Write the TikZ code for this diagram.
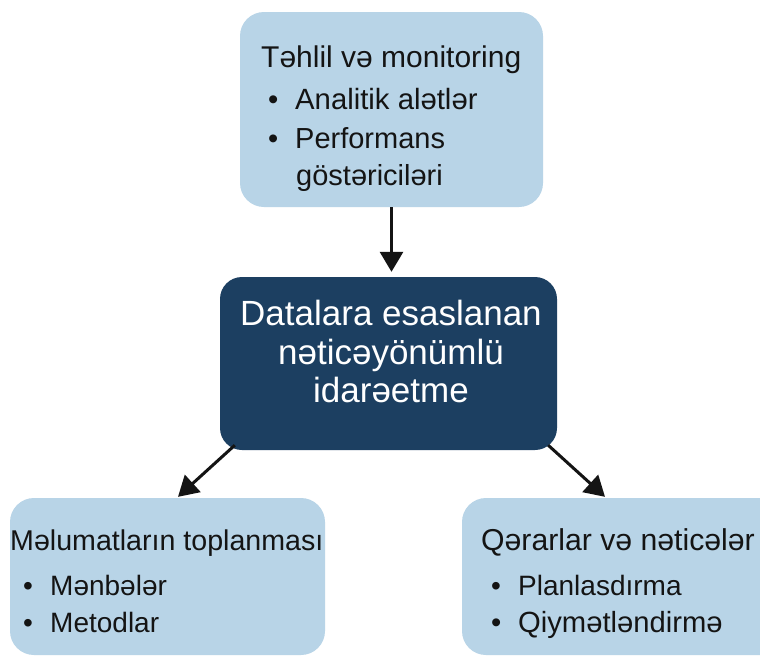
\documentclass[tikz,border=0pt]{standalone}
\usepackage{fontspec}
\setmainfont{Liberation Sans}
\usetikzlibrary{arrows.meta}
\definecolor{lightbox}{HTML}{B8D4E7}
\definecolor{darkbox}{HTML}{1C3F61}
\definecolor{ink}{HTML}{141414}
\newcommand{\bul}{\makebox[27pt][l]{\textbullet}}
\begin{document}
\begin{tikzpicture}[x=1pt,y=-1pt,
  lbox/.style={fill=lightbox,rounded corners=24pt,inner sep=0pt},
  dbox/.style={fill=darkbox,rounded corners=22pt,inner sep=0pt},
  arr/.style={line width=3pt,draw=ink,-{Triangle[width=23pt,length=20pt]}},
  txt/.style={anchor=base west,inner sep=0pt,font=\fontsize{28}{34}\selectfont,text=ink},
  bigtxt/.style={txt,font=\fontsize{30}{36}\selectfont},
  ctext/.style={anchor=base,inner sep=0pt,font=\fontsize{35}{40}\selectfont,text=white}]
\useasboundingbox (0,0) rectangle (760,657);
\clip (0,0) rectangle (760,657);
\fill[white] (0,0) rectangle (760,657);
% boxes
\node[lbox,minimum width=303pt,minimum height=195pt] (top) at (391.5,109.5) {};
\node[dbox,minimum width=337pt,minimum height=173pt] (center) at (388.5,363.5) {};
\node[lbox,minimum width=315pt,minimum height=157pt] (left) at (167.5,576.5) {};
\node[lbox,minimum width=340pt,minimum height=157pt] (right) at (632,576.5) {};
% top text
\node[bigtxt] (t1) at (261,67) {Təhlil və monitoring};
\node[txt,font=\fontsize{29.3}{34}\selectfont] (t2) at (268,109) {\bul Analitik alətlər};
\node[txt,font=\fontsize{29}{34}\selectfont] (t3) at (268,148) {\bul Performans};
\node[txt,font=\fontsize{29}{34}\selectfont] (t4) at (296,185) {göstəriciləri};
% center text
\node[ctext] (c1) at (391,325) {Datalara esaslanan};
\node[ctext] (c2) at (391,364) {nəticəyönümlü};
\node[ctext] (c3) at (391,402) {idarəetme};
% left text
\node[txt,font=\fontsize{28.6}{34}\selectfont] (l1) at (10,550) {Məlumatların toplanması};
\node[txt] (l2) at (23,595) {\bul Mənbələr};
\node[txt] (l3) at (23,632) {\bul Metodlar};
% right text
\node[txt,font=\fontsize{30.2}{36}\selectfont] (r1) at (481,550) {Qərarlar və nəticələr};
\node[txt] (r2) at (491,595) {\bul Planlasdırma};
\node[txt,font=\fontsize{29.2}{34}\selectfont] (r3) at (491,632) {\bul Qiymətləndirmə};
% arrows
\draw[arr,shorten >=5pt] (top.south) -- (top.south |- center.north);
\draw[arr] ([xshift=15pt,yshift=5pt]center.south west) -- ([xshift=10.5pt,yshift=1pt]left.north);
\draw[arr] ([xshift=-9pt,yshift=5pt]center.south east) -- ([xshift=-27pt,yshift=1pt]right.north);
\end{tikzpicture}
\end{document}
